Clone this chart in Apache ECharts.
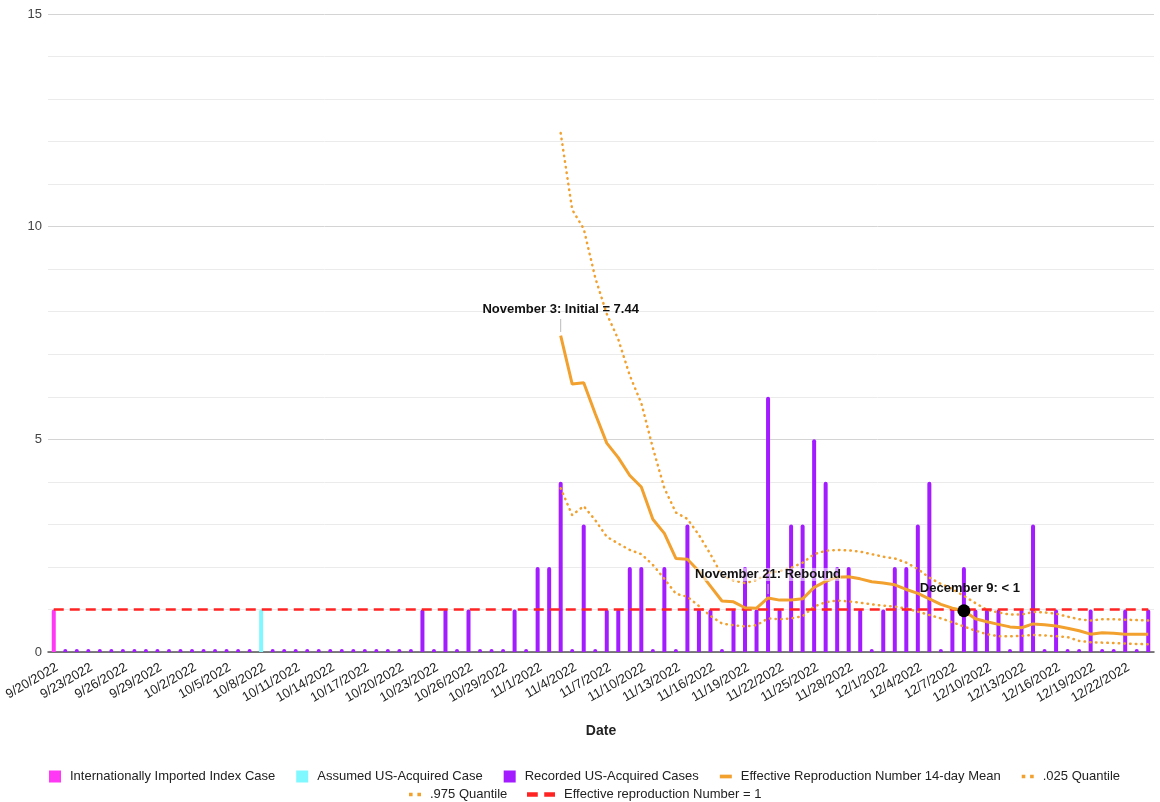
<!DOCTYPE html>
<html>
<head>
<meta charset="utf-8">
<title>Effective Reproduction Number</title>
<script src="https://cdn.jsdelivr.net/npm/echarts@6/dist/echarts.min.js"></script>
<style>
  html, body { margin: 0; padding: 0; background: #fff; }
  #chart { width: 1160px; height: 802px; }
</style>
</head>
<body>
<div id="chart"></div>
<script>
const dates = [
  '9/20/2022', '9/21/2022', '9/22/2022', '9/23/2022', '9/24/2022', '9/25/2022', '9/26/2022', '9/27/2022', '9/28/2022', '9/29/2022', '9/30/2022',
  '10/1/2022', '10/2/2022', '10/3/2022', '10/4/2022', '10/5/2022', '10/6/2022', '10/7/2022', '10/8/2022', '10/9/2022', '10/10/2022',
  '10/11/2022', '10/12/2022', '10/13/2022', '10/14/2022', '10/15/2022', '10/16/2022', '10/17/2022', '10/18/2022', '10/19/2022', '10/20/2022',
  '10/21/2022', '10/22/2022', '10/23/2022', '10/24/2022', '10/25/2022', '10/26/2022', '10/27/2022', '10/28/2022', '10/29/2022', '10/30/2022', '10/31/2022',
  '11/1/2022', '11/2/2022', '11/3/2022', '11/4/2022', '11/5/2022', '11/6/2022', '11/7/2022', '11/8/2022', '11/9/2022', '11/10/2022',
  '11/11/2022', '11/12/2022', '11/13/2022', '11/14/2022', '11/15/2022', '11/16/2022', '11/17/2022', '11/18/2022', '11/19/2022', '11/20/2022',
  '11/21/2022', '11/22/2022', '11/23/2022', '11/24/2022', '11/25/2022', '11/26/2022', '11/27/2022', '11/28/2022', '11/29/2022', '11/30/2022',
  '12/1/2022', '12/2/2022', '12/3/2022', '12/4/2022', '12/5/2022', '12/6/2022', '12/7/2022', '12/8/2022', '12/9/2022', '12/10/2022',
  '12/11/2022', '12/12/2022', '12/13/2022', '12/14/2022', '12/15/2022', '12/16/2022', '12/17/2022', '12/18/2022', '12/19/2022', '12/20/2022',
  '12/21/2022', '12/22/2022', '12/23/2022', '12/24/2022'
]

// single-day bars
const importedCases = [['9/20/2022', 1]]
const assumedCases = [['10/8/2022', 1]]

// recorded US-acquired cases per day, 9/20 .. 12/24 ('-' where another bar sits)
const recordedCases = [
  '-', 0, 0, 0, 0, 0, 0, 0, 0, 0, 0,
  0, 0, 0, 0, 0, 0, 0, '-', 0, 0,
  0, 0, 0, 0, 0, 0, 0, 0, 0, 0,
  0, 1, 0, 1, 0, 1, 0, 0, 0, 1, 0,
  2, 2, 4, 0, 3, 0, 1, 1, 2, 2,
  0, 2, 0, 3, 1, 1, 0, 1, 2, 1,
  6, 1, 3, 3, 5, 4, 2, 2, 1, 0,
  1, 2, 2, 3, 4, 0, 1, 2, 1, 1,
  1, 0, 1, 3, 0, 1, 0, 0, 1, 0,
  0, 1, 0, 1
]

// Rt estimates start on 11/3
const rtStart = '11/3/2022'
const rtMean = [
  7.44, 6.3, 6.33, 5.6, 4.91, 4.57, 4.15, 3.88, 3.12, 2.79,
  2.2, 2.18, 1.9, 1.55, 1.2, 1.18, 1.04, 1.03, 1.27, 1.22,
  1.22, 1.25, 1.52, 1.66, 1.76, 1.77, 1.72, 1.65, 1.62, 1.58,
  1.47, 1.38, 1.25, 1.12, 1.03, 0.97, 0.78, 0.71, 0.65, 0.59,
  0.57, 0.66, 0.64, 0.61, 0.56, 0.5, 0.42, 0.45, 0.44, 0.42,
  0.42, 0.42
]
const rtLow = [
  3.85, 3.22, 3.43, 3.1, 2.71, 2.55, 2.4, 2.3, 2.05, 1.72,
  1.37, 1.3, 1.08, 0.85, 0.67, 0.63, 0.6, 0.63, 0.79, 0.77,
  0.79, 0.84, 1.07, 1.17, 1.21, 1.19, 1.16, 1.12, 1.09, 1.07,
  1.02, 0.95, 0.87, 0.79, 0.7, 0.6, 0.5, 0.42, 0.37, 0.37,
  0.38, 0.4, 0.39, 0.37, 0.35, 0.26, 0.23, 0.22, 0.21, 0.2,
  0.19, 0.18
]
const rtHigh = [
  12.2, 10.4, 9.95, 8.8, 7.95, 7.35, 6.5, 5.85, 4.8, 3.85,
  3.28, 3.13, 2.75, 2.3, 1.8, 1.68, 1.62, 1.69, 1.86, 1.9,
  1.98, 2.1, 2.3, 2.38, 2.4, 2.39, 2.36, 2.3, 2.24, 2.2,
  2.1, 1.95, 1.75, 1.6, 1.48, 1.32, 1.15, 0.99, 0.93, 0.88,
  0.88, 0.94, 0.93, 0.9, 0.83, 0.77, 0.74, 0.77, 0.77, 0.76,
  0.75, 0.74
]
const rtThreshold = 1

const yTicks = [0, 5, 10, 15]

const orange = '#f2a02e'
const red = '#ff2424'
const pink = '#ff38f5'
const cyan = '#80f8ff'
const purple = '#a21cff'
const font = '"Liberation Sans", Arial, sans-serif'

// legend glyphs for the line series
const lineIcon = 'path://M0,0h13v4h-13z'
const dotIcon = 'path://M0,0h3v3h-3z M7,0h3v3h-3z'
const dashIcon = 'path://M0,0h10v4h-10z M16,0h10v4h-10z'

const startIdx = dates.indexOf(rtStart)
const pad = (arr) => dates.map((d, i) => (i < startIdx ? '-' : arr[i - startIdx]))
const at = (date) => [date, rtMean[dates.indexOf(date) - startIdx]]

const annotationLabel = {
  show: true,
  position: 'top',
  distance: 3,
  color: '#111',
  fontFamily: font,
  fontSize: 13,
  fontWeight: 'bold'
}

const legendBase = {
  orient: 'horizontal',
  itemHeight: 12,
  itemGap: 21,
  symbolKeepAspect: true,
  textStyle: { fontSize: 13, color: '#222', fontFamily: font, padding: [0, 0, 0, 4] }
}

const chart = echarts.init(document.getElementById('chart'))

chart.setOption({
  animation: false,
  textStyle: { fontFamily: font },
  grid: { left: 48, right: 6, top: 14, bottom: 150 },
  legend: [
    {
      ...legendBase,
      top: 765,
      left: 44,
      itemWidth: 12,
      data: [
        { name: 'Internationally Imported Index Case', icon: 'rect', itemStyle: { color: pink } },
        { name: 'Assumed US-Acquired Case', icon: 'rect', itemStyle: { color: cyan } },
        { name: 'Recorded US-Acquired Cases', icon: 'rect', itemStyle: { color: purple } },
        { name: 'Effective Reproduction Number 14-day Mean', icon: lineIcon },
        { name: '.025 Quantile', icon: dotIcon }
      ]
    },
    {
      ...legendBase,
      top: 783,
      left: 404,
      itemWidth: 12,
      data: [{ name: '.975 Quantile', icon: dotIcon }]
    },
    {
      ...legendBase,
      top: 783,
      left: 522,
      itemWidth: 28,
      data: [{ name: 'Effective reproduction Number = 1', icon: dashIcon }]
    }
  ],
  xAxis: {
    type: 'category',
    data: dates,
    boundaryGap: true,
    name: 'Date',
    nameLocation: 'middle',
    nameGap: 72,
    nameTextStyle: { fontSize: 14, fontWeight: 'bold', color: '#222', fontFamily: font },
    axisLine: { lineStyle: { color: '#555', width: 1.5 } },
    axisTick: { show: false },
    axisLabel: {
      interval: 2,
      rotate: 30,
      fontSize: 13,
      color: '#222',
      margin: 9,
      verticalAlign: 'top',
      fontFamily: font
    }
  },
  yAxis: {
    type: 'value',
    min: 0,
    max: 15,
    interval: 1,
    axisLine: { show: false },
    axisTick: { show: false },
    axisLabel: {
      fontSize: 13,
      color: '#444',
      margin: 6,
      fontFamily: font,
      formatter: (v) => (yTicks.includes(v) ? String(v) : '')
    },
    splitLine: { lineStyle: { color: ['#d4d4d4', '#ebebeb', '#ebebeb', '#ebebeb', '#ebebeb'], width: 1 } }
  },
  series: [
    {
      name: 'Internationally Imported Index Case',
      type: 'bar',
      barWidth: 4,
      barGap: '-100%',
      itemStyle: { color: pink, borderRadius: [2, 2, 0, 0] },
      data: importedCases
    },
    {
      name: 'Assumed US-Acquired Case',
      type: 'bar',
      barWidth: 4,
      barGap: '-100%',
      itemStyle: { color: cyan, borderRadius: [2, 2, 0, 0] },
      data: assumedCases
    },
    {
      name: 'Recorded US-Acquired Cases',
      type: 'bar',
      barWidth: 4,
      barGap: '-100%',
      barMinHeight: 3,
      itemStyle: { color: purple, borderRadius: [2, 2, 0, 0] },
      data: recordedCases
    },
    {
      name: 'Effective Reproduction Number 14-day Mean',
      type: 'line',
      symbol: 'none',
      z: 4,
      lineStyle: { color: orange, width: 3 },
      itemStyle: { color: orange },
      data: pad(rtMean),
      markPoint: {
        animation: false,
        data: [
          {
            coord: at('11/3/2022'),
            symbol: 'rect',
            symbolSize: [1, 13],
            symbolOffset: [0, -10],
            itemStyle: { color: '#bbb' },
            label: { ...annotationLabel, formatter: 'November 3: Initial = 7.44' }
          },
          {
            coord: at('11/21/2022'),
            symbol: 'rect',
            symbolSize: [1, 10],
            symbolOffset: [0, -9],
            itemStyle: { color: '#ccc' },
            label: {
              ...annotationLabel,
              backgroundColor: 'rgba(255,255,255,0.55)',
              formatter: 'November 21: Rebound'
            }
          },
          {
            coord: at('12/8/2022'),
            symbol: 'circle',
            symbolSize: 13,
            itemStyle: { color: '#000' },
            label: { ...annotationLabel, distance: 9, offset: [6, 0], formatter: 'December 9: < 1' }
          }
        ]
      }
    },
    {
      name: '.025 Quantile',
      type: 'line',
      symbol: 'none',
      z: 3,
      lineStyle: { color: orange, width: 2.5, type: [0.5, 5.2], cap: 'round' },
      itemStyle: { color: orange },
      data: pad(rtLow)
    },
    {
      name: '.975 Quantile',
      type: 'line',
      symbol: 'none',
      z: 3,
      lineStyle: { color: orange, width: 2.5, type: [0.5, 5.2], cap: 'round' },
      itemStyle: { color: orange },
      data: pad(rtHigh)
    },
    {
      name: 'Effective reproduction Number = 1',
      type: 'line',
      symbol: 'none',
      z: 3,
      lineStyle: { color: red, width: 2.5, type: [10, 6] },
      itemStyle: { color: red },
      data: dates.map(() => rtThreshold)
    }
  ]
})
</script>
</body>
</html>
